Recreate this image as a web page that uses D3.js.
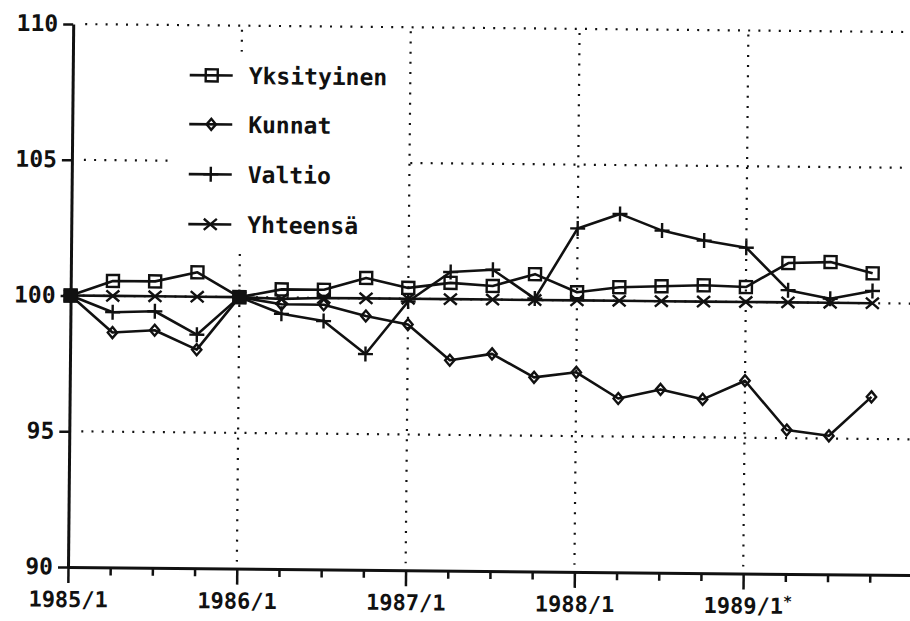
<!DOCTYPE html>
<html><head><meta charset="utf-8">
<script src="https://cdn.jsdelivr.net/npm/d3@7"></script>
<style>
html,body{margin:0;padding:0;background:#fff;}
svg{display:block;}
text{font-family:"DejaVu Sans Mono",monospace;font-weight:bold;fill:#111;}
</style></head>
<body><svg id="chart" width="910" height="621"></svg>
<script>
const quarters = ["1985/1","1985/2","1985/3","1985/4","1986/1","1986/2","1986/3","1986/4",
  "1987/1","1987/2","1987/3","1987/4","1988/1","1988/2","1988/3","1988/4",
  "1989/1","1989/2","1989/3","1989/4"];
const yearLabels = ["1985/1","1986/1","1987/1","1988/1","1989/1*"];
const yTicks = [90,95,100,105,110];
const seriesNames = ["Yksityinen","Kunnat","Valtio","Yhteensä"];
const yksityinen = [100,100.55,100.55,100.9,100,100.3,100.3,100.75,100.4,100.6,100.5,100.95,100.3,100.5,100.55,100.6,100.55,101.45,101.5,101.1];
const kunnat     = [100,98.65,98.75,98.05,100,99.75,99.75,99.35,99.05,97.75,98.0,97.15,97.35,96.4,96.75,96.4,97.1,95.3,95.1,96.55];
const valtio     = [100,99.4,99.45,98.6,100,99.4,99.15,97.95,99.9,101.0,101.1,100.05,102.65,103.2,102.6,102.25,102.0,100.45,100.15,100.45];
const yhteensa   = [100,100,100,100,100,99.95,100,100,100,100,100,100,100,100,100,100,100,100,100,100];

const seriesData = [yksityinen,kunnat,valtio,yhteensa];
const markerTypes = ["square","diamond","plus","cross"];

const svg = d3.select("#chart");
const x = d3.scaleLinear().domain([0,20]).range([68,912]);
const y = d3.scaleLinear().domain([90,110]).range([567,24]);

const g = svg.append("g").attr("transform","rotate(0.55,68,567)");

// grid
const dot = {stroke:"#111","stroke-width":2.2,"stroke-dasharray":"2,8.2","stroke-linecap":"butt"};
const grid = g.append("g");
[95,100,105,110].forEach(v=>{
  const l = grid.append("line").attr("x1",x(0)+12).attr("x2",x(20)).attr("y1",y(v)).attr("y2",y(v));
  Object.entries(dot).forEach(([k,val])=>l.attr(k,val));
});
[4,8,12,16].forEach(q=>{
  const l = grid.append("line").attr("x1",x(q)).attr("x2",x(q)).attr("y1",y(110)+4).attr("y2",y(90)-7);
  Object.entries(dot).forEach(([k,val])=>l.attr(k,val));
});

// legend background (hides grid)
const legend = g.append("g");
legend.append("rect").attr("x",168).attr("y",50).attr("width",236).attr("height",202).attr("fill","#fff");

// axes
const yAxis = g.append("g").attr("transform",`translate(${x(0)},0)`)
  .call(d3.axisLeft(y).tickValues(yTicks).tickSize(10).tickSizeOuter(0).tickPadding(5));
yAxis.select(".domain").attr("stroke","#111").attr("stroke-width",3);
yAxis.selectAll(".tick line").attr("stroke","#111").attr("stroke-width",2.5);
yAxis.selectAll(".tick text").attr("font-size",23).attr("font-family","DejaVu Sans Mono").attr("font-weight","bold").attr("fill","#111").attr("dy","0.3em");

const xAxis = g.append("g").attr("transform",`translate(0,${y(90)})`)
  .call(d3.axisBottom(x).tickValues(d3.range(20)).tickSize(8).tickSizeOuter(0)
    .tickFormat(d => d%4===0 ? yearLabels[d/4] : ""));
xAxis.select(".domain").attr("stroke","#111").attr("stroke-width",3);
xAxis.selectAll(".tick line").attr("stroke","#111").attr("stroke-width",2.5)
  .attr("y2", d => d%4===0 ? 16 : 8);
xAxis.selectAll(".tick text").attr("font-size",22).attr("font-family","DejaVu Sans Mono").attr("font-weight","bold").attr("fill","#111")
  .attr("y",40).attr("dy",0);
xAxis.selectAll(".tick text").filter(d=>d===16).each(function(){
  const t = d3.select(this);
  t.text("1989/1");
  const w = this.getComputedTextLength();
  t.attr("text-anchor","start").attr("x",-w/2);
  t.append("tspan").attr("font-size",15).attr("dy",-7).text("*");
});

// markers
function marker(sel, type, s){
  const h = s/2;
  let d;
  if(type==="square") d=`M${-h},${-h}H${h}V${h}H${-h}Z`;
  else if(type==="diamond") d=`M0,${-h}L${h*0.85},0L0,${h}L${-h*0.85},0Z`;
  else if(type==="plus") d=`M${-h},0H${h}M0,${-h}V${h}`;
  else d=`M${-h},${-h*0.85}L${h},${h*0.85}M${-h},${h*0.85}L${h},${-h*0.85}`;
  return sel.append("path").attr("d",d).attr("fill","none").attr("stroke","#111").attr("stroke-width",2.4);
}
const sizes = {square:12,diamond:11,plus:15,cross:13};

const line = d3.line().x((d,i)=>x(i)).y(d=>y(d));
const plot = g.append("g");
seriesData.forEach((arr,si)=>{
  plot.append("path").datum(arr).attr("d",line).attr("fill","none").attr("stroke","#111").attr("stroke-width",2.6).attr("stroke-linejoin","round");
});
seriesData.forEach((arr,si)=>{
  arr.forEach((v,i)=>{
    const mg = plot.append("g").attr("transform",`translate(${x(i)},${y(v)})`);
    marker(mg, markerTypes[si], sizes[markerTypes[si]]);
  });
});
// coinciding base points drawn as solid blobs
[0,4].forEach(i=>{
  if(seriesData.every(a=>a[i]===100)){
    plot.append("rect").attr("x",x(i)-7).attr("y",y(100)-7).attr("width",14).attr("height",14).attr("fill","#111");
  }
});

// legend rows
const rowY = [74,123,173,223];
seriesNames.forEach((name,i)=>{
  const r = legend.append("g").attr("transform",`translate(0,${rowY[i]})`);
  r.append("line").attr("x1",185).attr("x2",228).attr("y1",0).attr("y2",0).attr("stroke","#111").attr("stroke-width",2.6);
  const mg = r.append("g").attr("transform","translate(207,0)");
  marker(mg, markerTypes[i], sizes[markerTypes[i]]);
  r.append("text").attr("x",244).attr("y",0).attr("dy","0.36em").attr("font-size",23).text(name);
});
</script></body></html>
